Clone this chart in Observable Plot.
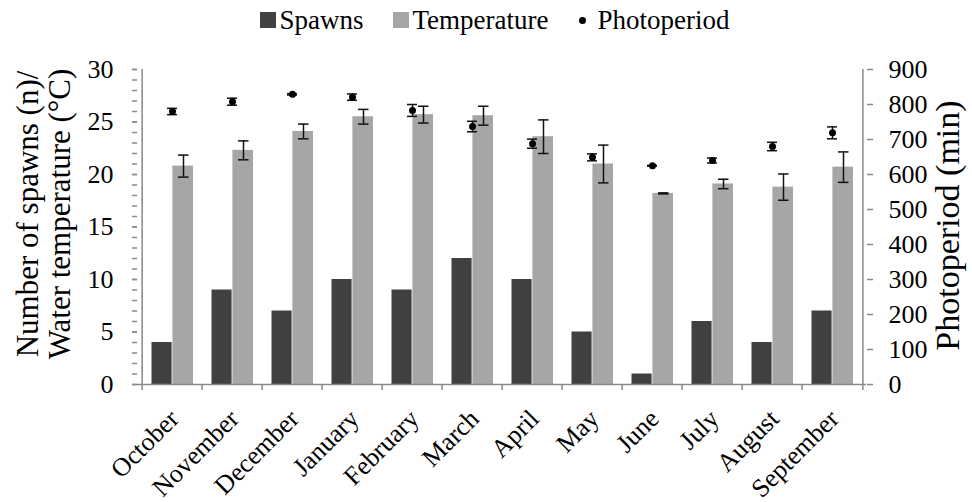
<!DOCTYPE html>
<html><head><meta charset="utf-8">
<script src="https://cdn.jsdelivr.net/npm/d3@7"></script>
<script src="https://cdn.jsdelivr.net/npm/@observablehq/plot@0.6"></script>
<style>
body{margin:0;background:#fff;font-family:"Liberation Serif","Tinos","Times New Roman","DejaVu Serif",serif;}
#legend{height:40px;display:flex;justify-content:center;align-items:center;gap:30px;font-size:27px;color:#000;padding-left:18px;box-sizing:border-box;width:972px;}
#legend .it{display:flex;align-items:center;}
.sw{display:inline-block;width:16px;height:16px;margin-right:3px;}
.dt{display:inline-block;width:7px;height:7px;border-radius:50%;background:#000;margin-right:12px;}
svg text{font-family:"Liberation Serif","Tinos","Times New Roman","DejaVu Serif",serif;}
</style></head><body>
<div id="legend"></div><div id="chart"></div>
<script>
const months = ["October","November","December","January","February","March","April","May","June","July","August","September"];
const spawns = [4,9,7,10,9,12,10,5,1,6,4,7];
const temperature = [20.8,22.3,24.1,25.5,25.7,25.6,23.6,21.0,18.2,19.1,18.8,20.7];
const temperatureSD = [1.05,0.9,0.7,0.7,0.8,0.9,1.6,1.8,0.05,0.45,1.25,1.45];
const photoperiod = [780,808,829,821,783,737,688,649,625,640,680,719];
const photoperiodSD = [9,10,2,9,17,15,13,10,1,7,12,17];
const leftTicks = [0,5,10,15,20,25,30];
const rightTicks = [0,100,200,300,400,500,600,700,800,900];
const seriesNames = ["Spawns","Temperature","Photoperiod"];
const colors = ["#404040","#a6a6a6","#000000"];

const k = 900/30;
const data = months.map((m,i)=>({month:m, spawns:spawns[i], temp:temperature[i], tsd:temperatureSD[i], photo:photoperiod[i], psd:photoperiodSD[i]}));

const W=972,H=462,mL=137,mR=106,mT=29,mB=118;
const bw=(W-mL-mR)/months.length;
const axisColor="#898989";

const lg=document.getElementById("legend");
seriesNames.forEach((s,i)=>{
  const it=document.createElement("span"); it.className="it";
  const sw=document.createElement("span"); sw.className = i<2 ? "sw" : "dt";
  if(i<2) sw.style.background=colors[i];
  it.appendChild(sw); it.appendChild(document.createTextNode(s)); lg.appendChild(it);
});

const minor = d3.range(0,31,1);
const chart = Plot.plot({
  width:W,height:H,marginLeft:mL,marginRight:mR,marginTop:mT,marginBottom:mB,
  style:{fontSize:"26px", color:"#000", background:"#fff"},
  x:{domain:months, padding:0, axis:null},
  y:{domain:[0,30], axis:null},
  marks:[
    Plot.barY(data,{x:"month", y:"spawns", fill:colors[0], insetLeft:9.5, insetRight:30.4}),
    Plot.barY(data,{x:"month", y:"temp", fill:colors[1], insetLeft:30.4, insetRight:9}),
    Plot.ruleY([0],{stroke:axisColor, strokeWidth:1.5}),
    Plot.ruleX([months[0]],{y1:0,y2:30,dx:-bw/2,stroke:axisColor, strokeWidth:1.5}),
    Plot.ruleX([months[months.length-1]],{y1:0,y2:30,dx:bw/2,stroke:axisColor, strokeWidth:1.5}),
    Plot.ruleX(months,{x:d=>d,y1:0,y2:0,dx:-bw/2,insetBottom:-6,stroke:axisColor, strokeWidth:1.5}),
    Plot.ruleX([months[months.length-1]],{y1:0,y2:0,dx:bw/2,insetBottom:-6,stroke:axisColor, strokeWidth:1.5}),
    Plot.ruleX(data,{x:"month", y1:d=>d.temp-d.tsd, y2:d=>d.temp+d.tsd, dx:11, stroke:"#111", strokeWidth:1.5}),
    Plot.tickY(data,{x:"month", y:d=>d.temp+d.tsd, insetLeft:36, insetRight:13.5, stroke:"#111", strokeWidth:1.5}),
    Plot.tickY(data,{x:"month", y:d=>d.temp-d.tsd, insetLeft:36, insetRight:13.5, stroke:"#111", strokeWidth:1.5}),
    Plot.ruleX(data,{x:"month", y1:d=>(d.photo-d.psd)/k, y2:d=>(d.photo+d.psd)/k, stroke:"#111", strokeWidth:1.5}),
    Plot.tickY(data,{x:"month", y:d=>(d.photo+d.psd)/k, insetLeft:25, insetRight:25, stroke:"#111", strokeWidth:1.5}),
    Plot.tickY(data,{x:"month", y:d=>(d.photo-d.psd)/k, insetLeft:25, insetRight:25, stroke:"#111", strokeWidth:1.5}),
    Plot.dot(data,{x:"month", y:d=>d.photo/k, r:3.5, fill:"#000"}),
    Plot.axisY({ticks:minor, tickFormat:()=>"", tickSize:5, label:null, stroke:axisColor, strokeWidth:1.5}),
    Plot.axisY({ticks:leftTicks, tickSize:5, tickPadding:19, label:null, stroke:axisColor, strokeWidth:1.5, fill:"#000"}),
    Plot.axisY({anchor:"right", ticks:rightTicks.map(v=>v/k), tickFormat:d=>String(Math.round(d*k)), tickSize:6, tickPadding:16, label:null, stroke:axisColor, strokeWidth:1.5, fill:"#000"}),
    Plot.text(months,{x:d=>d, frameAnchor:"bottom", rotate:-45, textAnchor:"end", lineAnchor:"middle", dx:2, dy:30, fontSize:26, fill:"#000"}),
    Plot.text(["Number of spawns (n)/\nWater temperature (°C)"],{frameAnchor:"left", rotate:-90, dx:-94, dy:-13, fontSize:31, lineHeight:1.03, textAnchor:"middle", lineAnchor:"middle", fill:"#000"}),
    Plot.text(["Photoperiod (min)"],{frameAnchor:"right", rotate:-90, dx:82, dy:-1.5, fontSize:34, textAnchor:"middle", lineAnchor:"middle", fill:"#000"})
  ]
});
document.getElementById("chart").appendChild(chart);
</script>
</body></html>
